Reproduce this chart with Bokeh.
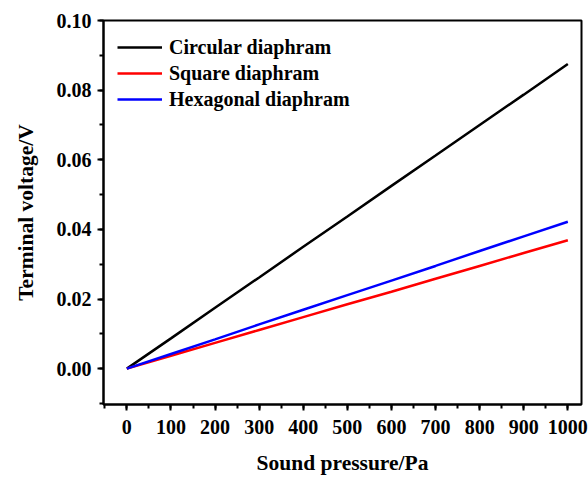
from bokeh.plotting import figure
from bokeh.models import SingleIntervalTicker, PrintfTickFormatter, Range1d, Legend, LegendItem
from bokeh.embed import file_html
from bokeh.resources import INLINE

pressure = [0, 100, 200, 300, 400, 500, 600, 700, 800, 900, 1000]
circular = [0.0, 0.0087, 0.0175, 0.0262, 0.035, 0.0437, 0.0525, 0.0612, 0.07, 0.0787, 0.0875]
square = [0.0, 0.0037, 0.0074, 0.0111, 0.0148, 0.0185, 0.0221, 0.0258, 0.0295, 0.0332, 0.0369]
hexagonal = [0.0, 0.0042, 0.0084, 0.0127, 0.0169, 0.0211, 0.0253, 0.0295, 0.0338, 0.038, 0.0422]
names = ["Circular diaphram", "Square diaphram", "Hexagonal diaphram"]
colors = ["black", "red", "blue"]

FONT = "Liberation Serif"

p = figure(width=588, height=477, output_backend="svg", toolbar_location=None,
           x_range=Range1d(-53, 1031), y_range=Range1d(-0.0103, 0.1),
           min_border_left=103, min_border_right=7, min_border_top=20, min_border_bottom=71)
p.grid.visible = False
p.outline_line_color = "black"
p.outline_line_width = 2
p.background_fill_color = "white"
p.border_fill_color = "white"

renderers = []
for ys, c in zip([circular, square, hexagonal], colors):
    r = p.line(pressure, ys, line_color=c, line_width=2.5)
    renderers.append(r)

legend = Legend(items=[LegendItem(label=n, renderers=[r]) for n, r in zip(names, renderers)],
                location="top_left", margin=14, padding=5, spacing=0,
                glyph_width=45, glyph_height=26, label_height=26, label_standoff=7,
                border_line_color=None, background_fill_alpha=0,
                label_text_color="black",
                label_text_font=FONT, label_text_font_style="bold", label_text_font_size="20px")
p.add_layout(legend)

p.xaxis.ticker = SingleIntervalTicker(interval=100, num_minor_ticks=2)
p.yaxis.ticker = SingleIntervalTicker(interval=0.02, num_minor_ticks=2)
p.yaxis.formatter = PrintfTickFormatter(format="%.2f")

for ax in [p.xaxis[0], p.yaxis[0]]:
    ax.axis_line_width = 2
    ax.axis_line_color = "black"
    ax.major_tick_line_width = 2
    ax.minor_tick_line_width = 2
    ax.major_tick_out = 6
    ax.major_tick_in = 0
    ax.minor_tick_out = 4
    ax.minor_tick_in = 0
    ax.major_label_text_font = FONT
    ax.major_label_text_font_style = "bold"
    ax.major_label_text_font_size = "20px"
    ax.major_label_text_color = "black"
    ax.axis_label_text_font = FONT
    ax.axis_label_text_font_style = "bold"
    ax.axis_label_text_font_size = "21.5px"
    ax.axis_label_text_color = "black"

p.xaxis.axis_label = "Sound pressure/Pa"
p.yaxis.axis_label = "Terminal voltage/V"
p.xaxis.major_label_standoff = 9
p.xaxis.axis_label_standoff = 14
p.yaxis.major_label_standoff = 6
p.yaxis.axis_label_standoff = 16

open("out.html", "w").write(file_html(p, INLINE))
